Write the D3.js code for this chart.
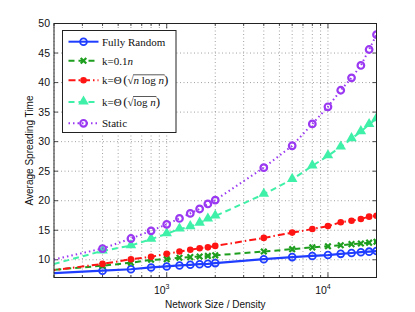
<!DOCTYPE html>
<html>
<head>
<meta charset="utf-8">
<script src="https://cdnjs.cloudflare.com/ajax/libs/d3/7.8.5/d3.min.js"></script>
<style>
  body { margin: 0; background: #fff; }
  svg { display: block; }
</style>
</head>
<body>
<div id="chart"></div>
<script>
// network size / density (first point lies left of the visible range)
const sizes = [100, 400, 600, 800, 1000, 1200, 1400, 1600, 1800, 2000,
  4000, 6000, 8000, 10000, 12000, 14000, 16000, 18000, 20000];
const fullyRandom = [7.35, 8.15, 8.4, 8.7, 8.87, 9.04, 9.15, 9.25, 9.32, 9.44,
  10.1, 10.45, 10.65, 10.8, 11.0, 11.15, 11.28, 11.38, 11.48];
const kLinear = [7.6, 9.0, 9.5, 10.0, 10.1, 10.35, 10.45, 10.55, 10.65, 10.75,
  11.4, 11.8, 12.1, 12.3, 12.45, 12.65, 12.75, 12.9, 13.05];
const kSqrtNLogN = [7.2, 9.3, 10.1, 10.5, 11.0, 11.4, 11.7, 11.95, 12.1, 12.35,
  13.7, 14.6, 15.2, 15.7, 16.35, 16.6, 16.9, 17.3, 17.45];
const kSqrtLogN = [7.1, 11.5, 12.4, 13.5, 14.4, 15.2, 15.6, 16.2, 16.9, 17.4,
  21.1, 23.6, 25.9, 27.6, 29.1, 30.5, 31.7, 32.9, 33.9];
const staticNet = [8.2, 11.9, 13.6, 14.9, 16.0, 17.0, 17.85, 18.6, 19.45, 20.1,
  25.6, 29.3, 33.0, 35.9, 38.7, 40.8, 42.9, 45.6, 48.1];
const yTicks = [10, 15, 20, 25, 30, 35, 40, 45, 50];
const xMajor = [1000, 10000];

const series = [
  { name: 'random', values: fullyRandom, color: '#1f3dff', dash: null, marker: 'openCircle' },
  { name: 'linear', values: kLinear, color: '#1e9e1e', dash: '6,4', marker: 'asterisk' },
  { name: 'sqrtnlogn', values: kSqrtNLogN, color: '#ff1414', dash: '7,3,1.5,3', marker: 'dot' },
  { name: 'sqrtlogn', values: kSqrtLogN, color: '#3ff0a8', dash: '6,4', marker: 'triangle' },
  { name: 'static', values: staticNet, color: '#9a38f2', dash: '1.5,3', marker: 'bigCircle' }
];

const W = 415, H = 312;
const m = { left: 54, right: 38.5, top: 23.5, bottom: 34.5 };
const iw = W - m.left - m.right, ih = H - m.top - m.bottom;

const svg = d3.select('#chart').append('svg')
  .attr('width', W).attr('height', H);
const g = svg.append('g').attr('transform', `translate(${m.left},${m.top})`);

const x = d3.scaleLog().domain([200, 20000]).range([0, iw]);
const y = d3.scaleLinear().domain([7, 50]).range([ih, 0]);

// minor x positions (200..900, 2000..9000, 20000)
let xMinor = [];
[100, 1000, 10000].forEach(dec => {
  for (let k = 2; k <= 9; k++) {
    const v = dec * k;
    if (v >= 200 && v <= 20000) xMinor.push(v);
  }
});

// grid
const grid = g.append('g').attr('stroke', '#8a8a8a').attr('stroke-width', 0.8)
  .attr('stroke-dasharray', '1,2.5');
xMinor.concat(xMajor).forEach(v => {
  grid.append('line').attr('x1', x(v)).attr('x2', x(v)).attr('y1', 0).attr('y2', ih);
});
yTicks.filter(v => v < 50).forEach(v => {
  grid.append('line').attr('x1', 0).attr('x2', iw).attr('y1', y(v)).attr('y2', y(v));
});

// ticks, inside on all four sides
const ticks = g.append('g').attr('stroke', '#222').attr('stroke-width', 0.8);
yTicks.forEach(v => {
  ticks.append('line').attr('x1', 0).attr('x2', 4).attr('y1', y(v)).attr('y2', y(v));
  ticks.append('line').attr('x1', iw - 4).attr('x2', iw).attr('y1', y(v)).attr('y2', y(v));
});
xMajor.forEach(v => {
  ticks.append('line').attr('x1', x(v)).attr('x2', x(v)).attr('y1', ih).attr('y2', ih - 5);
  ticks.append('line').attr('x1', x(v)).attr('x2', x(v)).attr('y1', 0).attr('y2', 5);
});
xMinor.forEach(v => {
  ticks.append('line').attr('x1', x(v)).attr('x2', x(v)).attr('y1', ih).attr('y2', ih - 2.5);
  ticks.append('line').attr('x1', x(v)).attr('x2', x(v)).attr('y1', 0).attr('y2', 2.5);
});

// tick labels
const sans = 'Liberation Sans, Arial, sans-serif';
g.append('g').selectAll('text').data(yTicks).join('text')
  .attr('x', -4).attr('y', d => y(d)).attr('dy', '0.35em')
  .attr('text-anchor', 'end').attr('font-family', sans).attr('font-size', 10.5)
  .attr('fill', '#111').text(d => d);
xMajor.forEach(v => {
  const t = g.append('text').attr('x', x(v) - 5).attr('y', ih + 16)
    .attr('font-family', sans).attr('font-size', 10.5).attr('fill', '#111')
    .attr('text-anchor', 'middle');
  t.append('tspan').text('10');
  t.append('tspan').attr('font-size', 7).attr('dy', -5).text(Math.log10(v));
});

// axis titles
g.append('text').attr('x', iw / 2).attr('y', ih + 30)
  .attr('text-anchor', 'middle').attr('font-family', sans).attr('font-size', 10)
  .attr('fill', '#111').text('Network Size / Density');
g.append('text')
  .attr('transform', `translate(${-21},${ih / 2}) rotate(-90)`)
  .attr('text-anchor', 'middle').attr('font-family', sans).attr('font-size', 10)
  .attr('fill', '#111').text('Average Spreading Time');

// clipped plot content
svg.append('clipPath').attr('id', 'clip').append('rect')
  .attr('x', 0).attr('y', 0).attr('width', iw).attr('height', ih);
const plot = g.append('g').attr('clip-path', 'url(#clip)');

const line = d3.line().x(d => x(d[0])).y(d => y(d[1]));

function drawMarker(sel, type, color) {
  if (type === 'openCircle') {
    sel.append('circle').attr('r', 3.4).attr('fill', 'none')
      .attr('stroke', color).attr('stroke-width', 1.8);
  } else if (type === 'bigCircle') {
    sel.append('circle').attr('r', 3.3).attr('fill', 'none')
      .attr('stroke', color).attr('stroke-width', 2.2);
  } else if (type === 'dot') {
    sel.append('circle').attr('r', 3.3).attr('fill', color);
  } else if (type === 'triangle') {
    sel.append('path').attr('d', d3.symbol(d3.symbolTriangle, 48)())
      .attr('fill', color).attr('transform', 'translate(0,-0.5)');
  } else if (type === 'asterisk') {
    sel.append('path').attr('d', d3.symbol(d3.symbolTimes, 22)())
      .attr('fill', 'none').attr('stroke', color).attr('stroke-width', 2.2);
    sel.append('path').attr('d', d3.symbol(d3.symbolPlus, 14)())
      .attr('fill', color);
  }
}

series.forEach(s => {
  const pts = sizes.map((v, i) => [v, s.values[i]]);
  plot.append('path').datum(pts)
    .attr('fill', 'none').attr('stroke', s.color)
    .attr('stroke-width', s.name === 'random' ? 2.2 : 2)
    .attr('stroke-dasharray', s.dash)
    .attr('d', line);
  plot.append('g').selectAll('g').data(pts).join('g')
    .attr('transform', d => `translate(${x(d[0])},${y(d[1])})`)
    .each(function() { drawMarker(d3.select(this), s.marker, s.color); });
});

// box
g.append('rect').attr('width', iw).attr('height', ih)
  .attr('fill', 'none').attr('stroke', '#222').attr('stroke-width', 1);

// legend
const serif = 'Liberation Serif, Times New Roman, serif';
const leg = g.append('g').attr('transform', `translate(${62.5 - m.left},${30.5 - m.top})`);
leg.append('rect').attr('width', 113.5).attr('height', 102)
  .attr('fill', '#fff').attr('stroke', '#222').attr('stroke-width', 1);
const rowsY = [11.2, 30.2, 49.8, 71.5, 92.8];
series.forEach((s, i) => {
  const ry = rowsY[i];
  leg.append('line').attr('x1', 6).attr('x2', 36).attr('y1', ry).attr('y2', ry)
    .attr('stroke', s.color).attr('stroke-width', 2)
    .attr('stroke-dasharray', s.dash);
  const mk = leg.append('g').attr('transform', `translate(21,${ry})`);
  drawMarker(mk, s.marker, s.color);
});

function legText(ry) {
  return leg.append('text').attr('x', 39.5).attr('y', ry + 3.8)
    .attr('font-family', serif).attr('font-size', 11).attr('fill', '#111');
}
legText(rowsY[0]).text('Fully Random');
const t1 = legText(rowsY[1]);
t1.append('tspan').text('k=0.1');
t1.append('tspan').attr('font-style', 'italic').text('n');

function radicalRow(ry, parts) {
  const t = legText(ry);
  t.append('tspan').text('k=Θ');
  t.append('tspan').attr('font-size', 13).attr('dx', 1.5).text('(');
  t.append('tspan').text('√');
  const rad = t.append('tspan');
  parts.forEach(p => rad.append('tspan').attr('font-style', p.it ? 'italic' : null).text(p.t));
  t.append('tspan').attr('font-size', 13).text(')');
  const node = rad.node();
  const start = node.getStartPositionOfChar(0).x;
  const len = node.getComputedTextLength();
  leg.append('line').attr('x1', start - 0.5).attr('x2', start + len + 0.5)
    .attr('y1', ry - 5.5).attr('y2', ry - 5.5)
    .attr('stroke', '#111').attr('stroke-width', 0.7);
}
radicalRow(rowsY[2], [{ t: 'n', it: true }, { t: ' log ' }, { t: 'n', it: true }]);
radicalRow(rowsY[3], [{ t: 'log ' }, { t: 'n', it: true }]);
legText(rowsY[4]).text('Static');
</script>
</body>
</html>
